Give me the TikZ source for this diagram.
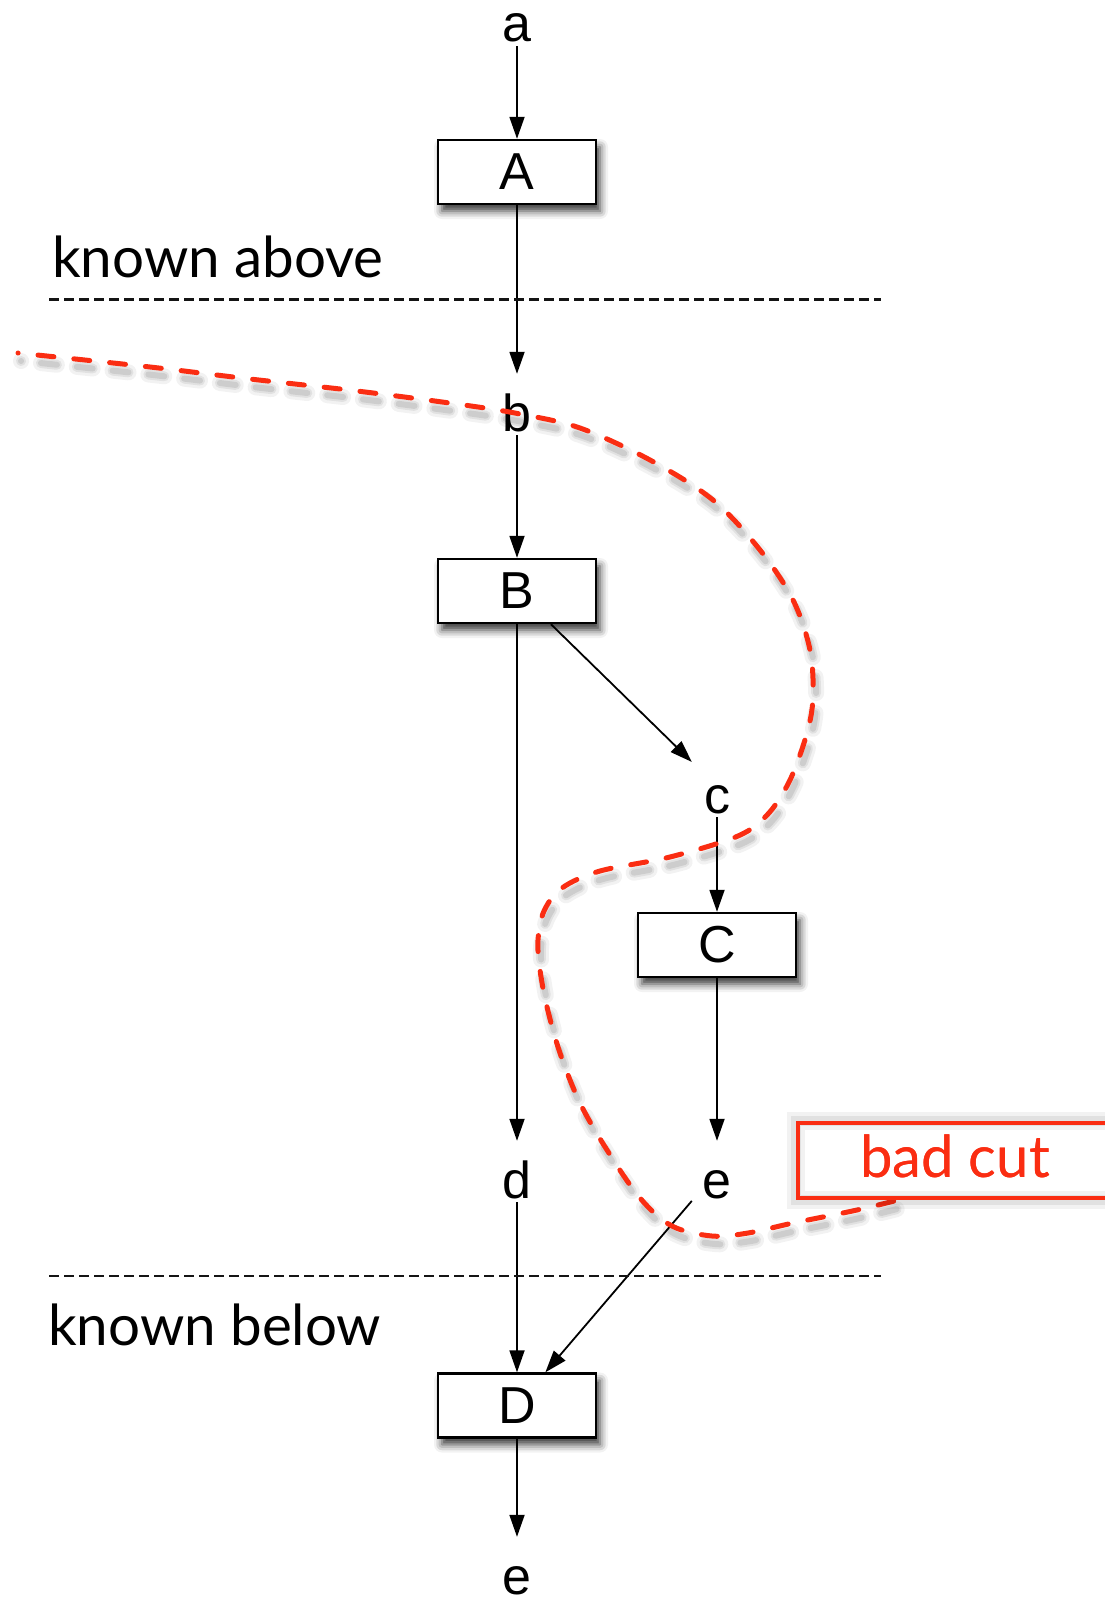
\documentclass[tikz,border=0pt]{standalone}
\usepackage{fontspec}
\setmainfont{Liberation Sans}
\newfontfamily\notefont{Lato}
\usetikzlibrary{arrows.meta,shadows.blur,calc}
\definecolor{cutred}{RGB}{250,45,18}
\definecolor{rulegray}{RGB}{20,20,20}

% the red cut line through the dataflow graph
\newcommand\cutcurve[1]{%
  \draw[#1] plot[smooth, tension=0.55] coordinates {
    (18,353) (150,367) (250,379) (357,391) (464,405) (520,414) (580,428)
    (650,460) (713,500) (760,550) (793,600) (810,650) (813,697) (807,733)
    (790,780) (768,814) (738,836) (670,857) (600,871) (562,888) (544,911)
    (538,940) (540,970) (547,1007) (560,1053) (580,1103) (607,1150)
    (640,1198) (672,1226) (712,1236) (748,1233) (793,1223) (857,1210)
    (902,1199)};}

\begin{document}
\begin{tikzpicture}[x=1pt, y=-1pt,
  opbox/.style={draw=black, fill=white, line width=2.4pt,
    minimum width=158pt, minimum height=64pt, inner sep=0pt,
    font=\fontsize{52}{52}\selectfont,
    blur shadow={shadow xshift=4pt, shadow yshift=-7pt,
      shadow blur radius=8pt, shadow opacity=80}},
  val/.style={inner sep=0pt, minimum width=50pt, text height=57pt,
    text depth=4pt, anchor=base, font=\fontsize{52}{52}\selectfont},
  flow/.style={line width=1.8pt, -{Triangle[length=22pt, width=15pt]}},
  boundary/.style={rulegray, line width=2.1pt, dash pattern=on 10pt off 5pt},
  note/.style={anchor=base west, inner sep=0pt,
    font=\notefont\fontsize{56.5}{56.5}\selectfont},
  cutline/.style={cutred, line width=5pt, line cap=round,
    dash pattern=on 16pt off 20pt, dash phase=15.9pt},
  cutshade/.style={black, line cap=round, dash pattern=on 16pt off 20pt,
    dash phase=15.9pt, shift={(3,8)}},
  cutbox/.style={draw=cutred, text=cutred, line width=4.5pt,
    minimum width=314pt, minimum height=75pt, inner sep=0pt,
    text height=44pt, text depth=11pt,
    font=\notefont\fontsize{58}{58}\selectfont}
]
\useasboundingbox (0,0) rectangle (1105,1603);

% operators
\node[opbox] (A) at (517,172) {A};
\node[opbox] (B) at (517,591) {B};
\node[opbox] (C) at (717,945) {C};
\node[opbox] (D) at (517,1405.5) {D};

% values
\node[val] (a)  at (517,42)   {a};
\node[val] (b)  at (517,431)  {b};
\node[val] (c)  at (717,813)  {c};
\node[val] (d)  at (517,1198) {d};
\node[val] (e1) at (717,1198) {e};
\node[val] (e2) at (517,1594) {e};

% edges
\draw[flow] (a) -- (A);
\draw[flow] (A) -- (b);
\draw[flow] (b) -- (B);
\draw[flow] (B) -- (d);
\draw[flow] (B) -- (c);
\draw[flow] (c) -- (C);
\draw[flow] (C) -- (e1);
\draw[flow] (d) -- (D);
\draw[flow] (e1) -- (D);
\draw[flow] (D) -- (e2);

% known-region boundaries
\coordinate (ka1) at (49,299.5);
\coordinate (ka2) at (881,299.5);
\coordinate (kb1) at (49,1276);
\coordinate (kb2) at (881,1276);
\draw[boundary] (ka1) -- (ka2);
\draw[boundary] (kb1) -- (kb2);
\node[note] (above) at (52,277) {known above};
\node[note] (below) at (48,1345) {known below};

% the bad cut
\cutcurve{cutshade, line width=16pt, opacity=0.05}
\cutcurve{cutshade, line width=10pt, opacity=0.07}
\cutcurve{cutshade, line width=6pt, opacity=0.09}
\cutcurve{cutline}

\node[cutbox] (bad) at (955,1160.5) {bad cut};
\begin{scope}[shift={(3,7)}]
  \draw[black, opacity=0.05, line width=18pt]
    (bad.north west) rectangle (bad.south east);
  \draw[black, opacity=0.07, line width=10pt]
    (bad.north west) rectangle (bad.south east);
\end{scope}
\node[cutbox] at (bad) {bad cut};
\end{tikzpicture}
\end{document}
